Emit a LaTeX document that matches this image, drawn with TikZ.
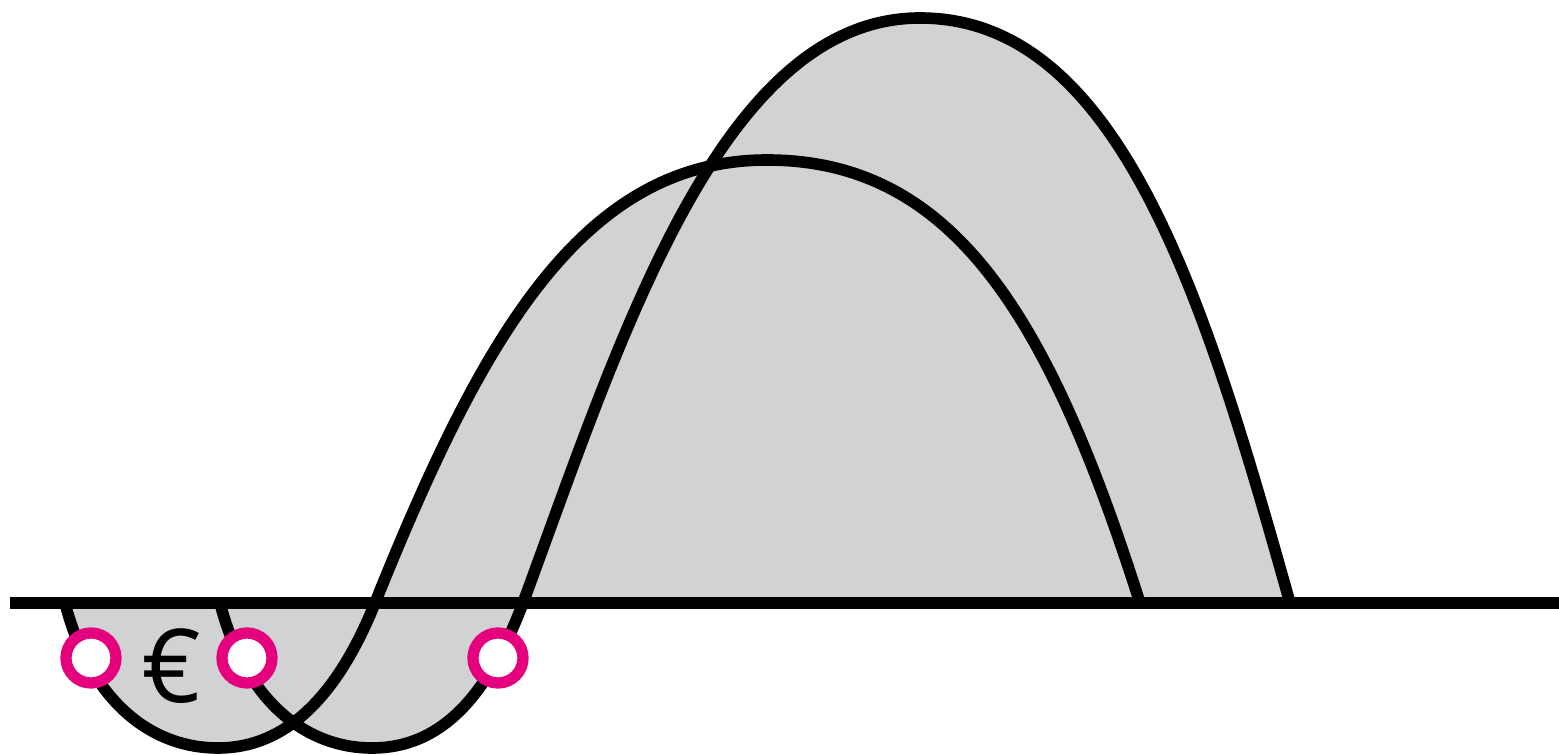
\documentclass[tikz,border=0pt]{standalone}
\usepackage{fontspec}
\setsansfont{Open Sans}
\usetikzlibrary{positioning}
\definecolor{hillgray}{HTML}{D1D2D4}
\definecolor{pinkring}{HTML}{E5007D}
\tikzset{
  wave/.style={draw=black, line width=3.3pt, line join=round},
  wavefill/.style={fill=hillgray, draw=none},
  baseline/.style={draw=black, line width=3.3pt},
  ring/.style={circle, draw=pinkring, fill=white, line width=3.2pt, minimum size=0.5cm, inner sep=0pt},
  sign/.style={font=\sffamily\fontsize{29}{29}\selectfont, inner sep=0pt},
}
\begin{document}
\begin{tikzpicture}[x=0.01cm, y=-0.01cm]
\useasboundingbox (0,0) rectangle (1559,755);
% the two waves
\def\waveA{(65,603) .. controls (90,700) and (150,748) .. (218,748)
  .. controls (290,748) and (340,690) .. (375,603)
  .. controls (480,342) and (580,160) .. (767,160)
  .. controls (955,160) and (1050,320) .. (1140,603)}
\def\waveB{(220,603) .. controls (245,700) and (305,748) .. (372,748)
  .. controls (445,748) and (490,690) .. (523,603)
  .. controls (620,340) and (720,18) .. (920,18)
  .. controls (1120,18) and (1205,300) .. (1290,603)}
\path[wavefill] \waveA -- cycle;
\path[wavefill] \waveB -- cycle;
\draw[baseline] (10,603) -- (1559,603);
\draw[wave] \waveA;
\draw[wave] \waveB;
% markers
\node[ring] (p1) at (91,658) {};
\node[ring] (p2) at (247,658) {};
\node[ring] (p3) at (498,658) {};
\node[sign] (eur) at (172,666) {€};
\end{tikzpicture}
\end{document}
